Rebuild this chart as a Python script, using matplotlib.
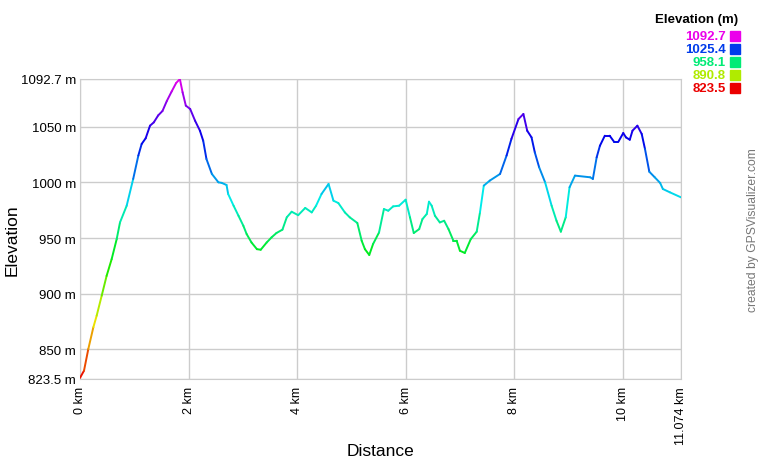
import numpy as np
import matplotlib
matplotlib.use("Agg")
import matplotlib.pyplot as plt
from matplotlib.collections import LineCollection
from matplotlib.colors import hsv_to_rgb

plt.rcParams["font.family"] = ["Liberation Sans", "DejaVu Sans"]

# distance (km) and elevation (m)
dist_km = [0.0, 0.074, 0.153, 0.246, 0.307, 0.40, 0.49, 0.583, 0.676, 0.737, 0.86,
           0.98, 1.075, 1.136, 1.21, 1.29, 1.36, 1.44, 1.52, 1.60, 1.69, 1.77, 1.84,
           1.89, 1.95, 2.03, 2.12, 2.21, 2.27, 2.33, 2.43, 2.55, 2.61, 2.70, 2.73,
           2.83, 2.92, 3.01, 3.07, 3.16, 3.26, 3.33, 3.44, 3.53, 3.62, 3.73, 3.81,
           3.90, 4.02, 4.15, 4.27, 4.35, 4.45, 4.58, 4.67, 4.76, 4.88, 4.97, 5.11,
           5.19, 5.25, 5.33, 5.40, 5.51, 5.60, 5.68, 5.77, 5.88, 6.00, 6.08, 6.15,
           6.25, 6.31, 6.39, 6.43, 6.48, 6.54, 6.63, 6.71, 6.79, 6.88, 6.94, 7.00,
           7.09, 7.20, 7.31, 7.37, 7.44, 7.55, 7.74, 7.86, 7.95, 8.08, 8.17, 8.24,
           8.32, 8.38, 8.46, 8.57, 8.69, 8.78, 8.86, 8.95, 9.02, 9.12, 9.40, 9.45,
           9.52, 9.58, 9.67, 9.76, 9.84, 9.92, 10.01, 10.06, 10.13, 10.18, 10.27,
           10.35, 10.41, 10.49, 10.59, 10.69, 10.74, 10.87, 11.074]
elev_m = [824.5, 831, 850.4, 869.9, 880.3, 898.3, 916, 931, 949, 964, 979,
          1003, 1024, 1034.4, 1039.5, 1050.8, 1053.8, 1060, 1064, 1073, 1081.6, 1089, 1092.7,
          1080.8, 1068.8, 1065.8, 1055.3, 1046.3, 1037.3, 1020.9, 1007.5, 1000, 999.5, 997.6, 989.5,
          979, 970, 961, 953.6, 946, 940, 939.5, 946, 950.6, 954.5, 957.5, 968.6,
          973.6, 970.5, 977, 973, 979, 989.5, 998.5, 983.5, 981.4, 973, 968.6, 963.5,
          947.6, 940, 934.8, 944.6, 955, 976, 974.5, 978.4, 979, 984.4, 968.6, 954.5,
          958, 967, 971.6, 982.6, 979, 970, 964, 965.5, 958, 947.6, 947.6, 938.6,
          936.6, 949, 955.7, 973, 997, 1001.5, 1007.5, 1024, 1039, 1056.8, 1061.3, 1046.3,
          1040.3, 1026.9, 1013.5, 1000, 979, 965.5, 955.7, 968.6, 995.5, 1006, 1004.5, 1003,
          1022.4, 1032.8, 1041.8, 1041.8, 1036.4, 1036.4, 1044.2, 1040.3, 1038.2, 1046.3, 1050.8,
          1043.4, 1030, 1009.5, 1004.5, 999.4, 994, 991, 986.5]

y_ticks = [823.5, 850, 900, 950, 1000, 1050, 1092.7]
y_ticklabels = ["823.5 m", "850 m", "900 m", "950 m", "1000 m", "1050 m", "1092.7 m"]
x_ticks = [0, 2, 4, 6, 8, 10, 11.074]
x_ticklabels = ["0 km", "2 km", "4 km", "6 km", "8 km", "10 km", "11.074 km"]
legend_vals = [1092.7, 1025.4, 958.1, 890.8, 823.5]

E_MIN, E_MAX = 823.5, 1092.7


def elev_color(e):
    # red -> magenta hue ramp, like GPSVisualizer
    h = (e - E_MIN) / (E_MAX - E_MIN) * 300.0 / 360.0
    return hsv_to_rgb((h, 1.0, 0.92))


fig = plt.figure(figsize=(7.6, 4.6), dpi=100)
ax = fig.add_axes([80 / 760, 80 / 460, 601 / 760, 300 / 460])

x = np.array(dist_km)
y = np.array(elev_m)
pts = np.column_stack([x, y]).reshape(-1, 1, 2)
segs = np.concatenate([pts[:-1], pts[1:]], axis=1)
mids = (y[:-1] + y[1:]) / 2
lc = LineCollection(segs, colors=[elev_color(m) for m in mids], linewidths=1.4,
                    capstyle="round", joinstyle="round", zorder=3)
ax.add_collection(lc)

ax.set_xlim(0, 11.074)
ax.set_ylim(E_MIN, E_MAX)
ax.set_xticks(x_ticks)
ax.set_xticklabels(x_ticklabels, rotation=90, fontsize=9, va="top")
ax.set_yticks(y_ticks)
ax.set_yticklabels(y_ticklabels, fontsize=9.5)
ax.tick_params(length=0, pad=3)
ax.tick_params(axis="x", pad=5)
ax.grid(True, color="#cccccc", lw=1.0)
for s in ax.spines.values():
    s.set_color("#cccccc")

fig.text(380 / 760, 1 - 452 / 460, "Distance", ha="center", va="center", fontsize=12.5)
fig.text(12 / 760, 1 - 240 / 460, "Elevation", ha="center", va="center",
         rotation=90, fontsize=12.5)

# legend in the top right corner
fig.text(738 / 760, 1 - 20 / 460, "Elevation (m)", ha="right", va="center",
         fontsize=9.5, weight="bold")
for i, v in enumerate(legend_vals):
    yy = 1 - (37 + i * 12.9) / 460
    c = elev_color(v)
    fig.text(726 / 760, yy, f"{v:.1f}", ha="right", va="center", fontsize=9.5,
             weight="bold", color=c)
    fig.patches.append(plt.Rectangle((730 / 760, yy - 5 / 460), 10 / 760, 10 / 460,
                                     transform=fig.transFigure, color=c))

fig.text(753 / 760, 1 - 230 / 460, "created by GPSVisualizer.com", rotation=90,
         ha="center", va="center", fontsize=8.7, color="#777777")

fig.savefig("out.png", dpi=100)
